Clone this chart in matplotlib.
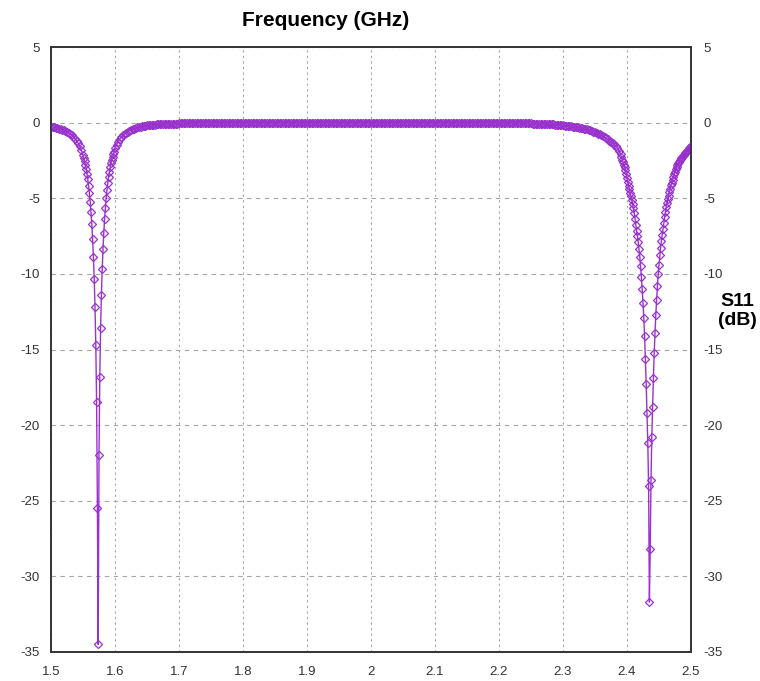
import matplotlib
matplotlib.use("Agg")
from matplotlib import pyplot as plt

# sweep points around the 1.575 GHz resonance
freq_left = [
    1.5000, 1.5025, 1.5050, 1.5075, 1.5100, 1.5125, 1.5150, 1.5175, 1.5200, 1.5225,
    1.5250, 1.5275, 1.5300, 1.5325, 1.5350, 1.5375, 1.5400, 1.5425, 1.5450, 1.5475,
    1.55000, 1.55125, 1.55250, 1.55375, 1.55500, 1.55625, 1.55750, 1.55875,
    1.56000, 1.56125, 1.56250, 1.56375, 1.56500, 1.56625, 1.56750, 1.56875,
    1.57000, 1.57125, 1.57250, 1.57375, 1.57500, 1.57625, 1.57750, 1.57875,
    1.58000, 1.58125, 1.58250, 1.58375, 1.58500, 1.58625, 1.58750, 1.58875,
    1.59000, 1.59125, 1.59250, 1.59375, 1.59500, 1.59625, 1.59750, 1.59875,
    1.6000, 1.6025, 1.6050, 1.6075, 1.6100, 1.6125, 1.6150, 1.6175, 1.6200, 1.6225,
    1.6250, 1.6275, 1.6300, 1.6325, 1.6350, 1.6375, 1.6400, 1.6425, 1.6450, 1.6475,
]
s11_left = [
    -0.27, -0.29, -0.31, -0.34, -0.36, -0.39, -0.43, -0.46, -0.51, -0.55,
    -0.61, -0.67, -0.74, -0.83, -0.93, -1.05, -1.19, -1.36, -1.57, -1.83,
    -2.14, -2.33, -2.55, -2.79, -3.07, -3.39, -3.75, -4.18,
    -4.67, -5.24, -5.92, -6.72, -7.68, -8.86, -10.32, -12.2,
    -14.73, -18.48, -25.5, -34.5, -22.0, -16.8, -13.6, -11.4,
    -9.7, -8.36, -7.27, -6.38, -5.63, -5.0, -4.46, -4.0,
    -3.6, -3.25, -2.95, -2.69, -2.46, -2.25, -2.07, -1.91,
    -1.70, -1.45, -1.25, -1.08, -0.95, -0.84, -0.74, -0.66, -0.59, -0.53,
    -0.48, -0.43, -0.39, -0.35, -0.32, -0.29, -0.26, -0.24, -0.22, -0.20,
]

# pass band
freq_mid = [
    1.6500, 1.6525, 1.6550, 1.6575, 1.6600, 1.6625, 1.6650, 1.6675, 1.6700, 1.6725,
    1.6750, 1.6775, 1.6800, 1.6825, 1.6850, 1.6875, 1.6900, 1.6925, 1.6950, 1.6975,
    1.7000, 1.7025, 1.7050, 1.7075, 1.7100, 1.7125, 1.7150, 1.7175, 1.7200, 1.7225,
    1.7250, 1.7275, 1.7300, 1.7325, 1.7350, 1.7375, 1.7400, 1.7425, 1.7450, 1.7475,
    1.7500, 1.7525, 1.7550, 1.7575, 1.7600, 1.7625, 1.7650, 1.7675, 1.7700, 1.7725,
    1.7750, 1.7775, 1.7800, 1.7825, 1.7850, 1.7875, 1.7900, 1.7925, 1.7950, 1.7975,
    1.8000, 1.8025, 1.8050, 1.8075, 1.8100, 1.8125, 1.8150, 1.8175, 1.8200, 1.8225,
    1.8250, 1.8275, 1.8300, 1.8325, 1.8350, 1.8375, 1.8400, 1.8425, 1.8450, 1.8475,
    1.8500, 1.8525, 1.8550, 1.8575, 1.8600, 1.8625, 1.8650, 1.8675, 1.8700, 1.8725,
    1.8750, 1.8775, 1.8800, 1.8825, 1.8850, 1.8875, 1.8900, 1.8925, 1.8950, 1.8975,
    1.9000, 1.9025, 1.9050, 1.9075, 1.9100, 1.9125, 1.9150, 1.9175, 1.9200, 1.9225,
    1.9250, 1.9275, 1.9300, 1.9325, 1.9350, 1.9375, 1.9400, 1.9425, 1.9450, 1.9475,
    1.9500, 1.9525, 1.9550, 1.9575, 1.9600, 1.9625, 1.9650, 1.9675, 1.9700, 1.9725,
    1.9750, 1.9775, 1.9800, 1.9825, 1.9850, 1.9875, 1.9900, 1.9925, 1.9950, 1.9975,
    2.0000, 2.0025, 2.0050, 2.0075, 2.0100, 2.0125, 2.0150, 2.0175, 2.0200, 2.0225,
    2.0250, 2.0275, 2.0300, 2.0325, 2.0350, 2.0375, 2.0400, 2.0425, 2.0450, 2.0475,
    2.0500, 2.0525, 2.0550, 2.0575, 2.0600, 2.0625, 2.0650, 2.0675, 2.0700, 2.0725,
    2.0750, 2.0775, 2.0800, 2.0825, 2.0850, 2.0875, 2.0900, 2.0925, 2.0950, 2.0975,
    2.1000, 2.1025, 2.1050, 2.1075, 2.1100, 2.1125, 2.1150, 2.1175, 2.1200, 2.1225,
    2.1250, 2.1275, 2.1300, 2.1325, 2.1350, 2.1375, 2.1400, 2.1425, 2.1450, 2.1475,
    2.1500, 2.1525, 2.1550, 2.1575, 2.1600, 2.1625, 2.1650, 2.1675, 2.1700, 2.1725,
    2.1750, 2.1775, 2.1800, 2.1825, 2.1850, 2.1875, 2.1900, 2.1925, 2.1950, 2.1975,
    2.2000, 2.2025, 2.2050, 2.2075, 2.2100, 2.2125, 2.2150, 2.2175, 2.2200, 2.2225,
    2.2250, 2.2275, 2.2300, 2.2325, 2.2350, 2.2375, 2.2400, 2.2425, 2.2450, 2.2475,
    2.2500, 2.2525, 2.2550, 2.2575, 2.2600, 2.2625, 2.2650, 2.2675, 2.2700, 2.2725,
    2.2750, 2.2775, 2.2800, 2.2825, 2.2850, 2.2875, 2.2900, 2.2925, 2.2950, 2.2975,
    2.3000, 2.3025, 2.3050, 2.3075, 2.3100, 2.3125, 2.3150, 2.3175, 2.3200, 2.3225,
    2.3250, 2.3275, 2.3300, 2.3325, 2.3350, 2.3375, 2.3400, 2.3425, 2.3450, 2.3475,
]
s11_mid = [
    -0.18, -0.17, -0.16, -0.15, -0.14, -0.13, -0.12, -0.12, -0.11, -0.10,
    -0.10, -0.09, -0.09, -0.08, -0.08, -0.07, -0.07, -0.06, -0.06, -0.06,
    -0.05, -0.05, -0.05, -0.05, -0.04, -0.04, -0.04, -0.04, -0.03, -0.03,
    -0.03, -0.03, -0.03, -0.03, -0.02, -0.02, -0.02, -0.02, -0.02, -0.02,
    -0.02, -0.02, -0.01, -0.01, -0.01, -0.01, -0.01, -0.01, -0.01, -0.01,
    -0.01, -0.01, -0.01, -0.01, -0.01, -0.01, -0.01, -0.01, -0.01, -0.01,
    -0.01, -0.01, 0.00, 0.00, 0.00, 0.00, 0.00, 0.00, 0.00, 0.00,
    0.00, 0.00, 0.00, 0.00, 0.00, 0.00, 0.00, 0.00, 0.00, 0.00,
    0.00, 0.00, 0.00, 0.00, 0.00, 0.00, 0.00, 0.00, 0.00, 0.00,
    0.00, 0.00, 0.00, 0.00, 0.00, 0.00, 0.00, 0.00, 0.00, 0.00,
    0.00, 0.00, 0.00, 0.00, 0.00, 0.00, 0.00, 0.00, 0.00, 0.00,
    0.00, 0.00, 0.00, 0.00, 0.00, 0.00, 0.00, 0.00, 0.00, 0.00,
    0.00, 0.00, 0.00, 0.00, 0.00, 0.00, 0.00, 0.00, 0.00, 0.00,
    0.00, 0.00, 0.00, 0.00, 0.00, 0.00, 0.00, 0.00, 0.00, 0.00,
    0.00, 0.00, 0.00, 0.00, 0.00, 0.00, 0.00, 0.00, 0.00, 0.00,
    0.00, 0.00, 0.00, 0.00, 0.00, 0.00, 0.00, 0.00, 0.00, 0.00,
    0.00, 0.00, 0.00, 0.00, 0.00, 0.00, 0.00, 0.00, 0.00, 0.00,
    0.00, 0.00, 0.00, 0.00, 0.00, 0.00, 0.00, 0.00, 0.00, 0.00,
    0.00, 0.00, 0.00, 0.00, 0.00, 0.00, 0.00, 0.00, 0.00, 0.00,
    0.00, 0.00, 0.00, 0.00, 0.00, 0.00, 0.00, 0.00, 0.00, 0.00,
    -0.01, -0.01, -0.01, -0.01, -0.01, -0.01, -0.01, -0.01, -0.01, -0.01,
    -0.01, -0.01, -0.02, -0.02, -0.02, -0.02, -0.02, -0.02, -0.02, -0.02,
    -0.02, -0.02, -0.03, -0.03, -0.03, -0.03, -0.03, -0.03, -0.03, -0.04,
    -0.04, -0.04, -0.04, -0.04, -0.04, -0.05, -0.05, -0.05, -0.05, -0.05,
    -0.05, -0.06, -0.06, -0.06, -0.07, -0.07, -0.07, -0.08, -0.08, -0.09,
    -0.09, -0.10, -0.10, -0.11, -0.12, -0.13, -0.14, -0.15, -0.16, -0.17,
    -0.19, -0.20, -0.21, -0.22, -0.24, -0.25, -0.27, -0.28, -0.30, -0.32,
    -0.34, -0.36, -0.38, -0.40, -0.43, -0.45, -0.48, -0.51, -0.55, -0.59,
]

# sweep points around the 2.435 GHz resonance
freq_right = [
    2.3500, 2.3525, 2.3550, 2.3575, 2.3600, 2.3625, 2.3650, 2.3675,
    2.3700, 2.3725, 2.3750, 2.3775, 2.3800, 2.3825, 2.3850, 2.3875,
    2.39000, 2.39125, 2.39250, 2.39375, 2.39500, 2.39625, 2.39750, 2.39875,
    2.40000, 2.40125, 2.40250, 2.40375, 2.40500, 2.40625, 2.40750, 2.40875,
    2.41000, 2.41125, 2.41250, 2.41375, 2.41500, 2.41625, 2.41750, 2.41875,
    2.42000, 2.42125, 2.42250, 2.42375, 2.42500, 2.42625, 2.42750, 2.42875,
    2.43000, 2.43125, 2.43250, 2.43375, 2.43500, 2.43625, 2.43750, 2.43875,
    2.44000, 2.44125, 2.44250, 2.44375, 2.44500, 2.44625, 2.44750, 2.44875,
    2.45000, 2.45125, 2.45250, 2.45375, 2.45500, 2.45625, 2.45750, 2.45875,
    2.46000, 2.46125, 2.46250, 2.46375, 2.46500, 2.46625, 2.46750, 2.46875,
    2.47000, 2.47125, 2.47250, 2.47375, 2.47500, 2.47625, 2.47750, 2.47875,
    2.48000, 2.48125, 2.48250, 2.48375, 2.48500, 2.48625, 2.48750, 2.48875,
    2.49000, 2.49125, 2.49250, 2.49375, 2.49500, 2.49625, 2.49750, 2.49875,
    2.50000,
]
s11_right = [
    -0.63, -0.68, -0.73, -0.78, -0.84, -0.91, -0.98, -1.04,
    -1.11, -1.19, -1.27, -1.35, -1.45, -1.56, -1.70, -1.88,
    -2.1, -2.3, -2.45, -2.6, -2.77, -2.93, -3.12, -3.38,
    -3.65, -3.9, -4.17, -4.4, -4.65, -4.88, -5.12, -5.36,
    -5.67, -5.99, -6.34, -6.74, -7.15, -7.47, -7.89, -8.37,
    -8.86, -9.5, -10.2, -11.0, -11.9, -12.9, -14.1, -15.6,
    -17.3, -19.2, -21.2, -24.0, -31.7, -28.2, -23.6, -20.8,
    -18.8, -16.9, -15.2, -13.9, -12.7, -11.7, -10.8, -10.0,
    -9.4, -8.75, -8.27, -7.8, -7.4, -7.05, -6.66, -6.26,
    -5.93, -5.6, -5.32, -5.08, -4.84, -4.6, -4.36, -4.14,
    -3.98, -3.78, -3.58, -3.4, -3.25, -3.09, -2.92, -2.8,
    -2.7, -2.6, -2.49, -2.41, -2.33, -2.25, -2.18, -2.11,
    -2.04, -1.98, -1.91, -1.85, -1.79, -1.73, -1.67, -1.61,
    -1.55,
]

x_ticks = [1.5, 1.6, 1.7, 1.8, 1.9, 2.0, 2.1, 2.2, 2.3, 2.4, 2.5]
x_labels = ['1.5', '1.6', '1.7', '1.8', '1.9', '2', '2.1', '2.2', '2.3', '2.4', '2.5']
y_ticks = [5, 0, -5, -10, -15, -20, -25, -30, -35]

PURPLE = '#9932CC'
GRID = '#a6a6a6'
FONT = 'Liberation Sans'

freq = freq_left + freq_mid + freq_right
s11 = s11_left + s11_mid + s11_right

plt.rcParams['font.family'] = [FONT, 'DejaVu Sans']
plt.rcParams['axes.unicode_minus'] = False

fig = plt.figure(figsize=(7.6, 6.81), dpi=100)
ax = fig.add_axes([51 / 760, 1 - 652 / 681, 640 / 760, 605 / 681])

for x in x_ticks:
    ax.axvline(x, color=GRID, lw=0.8, ls=(0, (2, 3)), zorder=0)
for y in y_ticks:
    ax.axhline(y, color=GRID, lw=0.8, ls=(0, (4, 4)), zorder=0)

ax.plot(freq, s11, color=PURPLE, lw=1.0, marker='D', ms=3.8,
        mfc='none', mec=PURPLE, mew=0.9, zorder=3)

ax.set_xlim(1.5, 2.5)
ax.set_ylim(-35, 5)
ax.set_xticks(x_ticks)
ax.set_xticklabels(x_labels)
ax.set_yticks(y_ticks)
ax.tick_params(axis='x', length=0, pad=10, labelsize=9.5, labelcolor='#333333')
ax.tick_params(axis='y', length=0, pad=8, labelsize=9.5, labelcolor='#333333')

ax2 = ax.twinx()
ax2.set_ylim(-35, 5)
ax2.set_yticks(y_ticks)
ax2.tick_params(axis='y', length=0, pad=9, labelsize=9.5, labelcolor='#333333')

for a in (ax, ax2):
    for s in a.spines.values():
        s.set_color('#333333')
        s.set_linewidth(1.2)

fig.text(326 / 760, 1 - 20 / 681, 'Frequency (GHz)', ha='center', va='center',
         fontsize=15, fontweight='bold')
fig.text(737 / 760, 1 - 311 / 681, 'S11\n(dB)', ha='center', va='center',
         fontsize=14, fontweight='bold', linespacing=1.1)

fig.savefig('out.png', dpi=100)
